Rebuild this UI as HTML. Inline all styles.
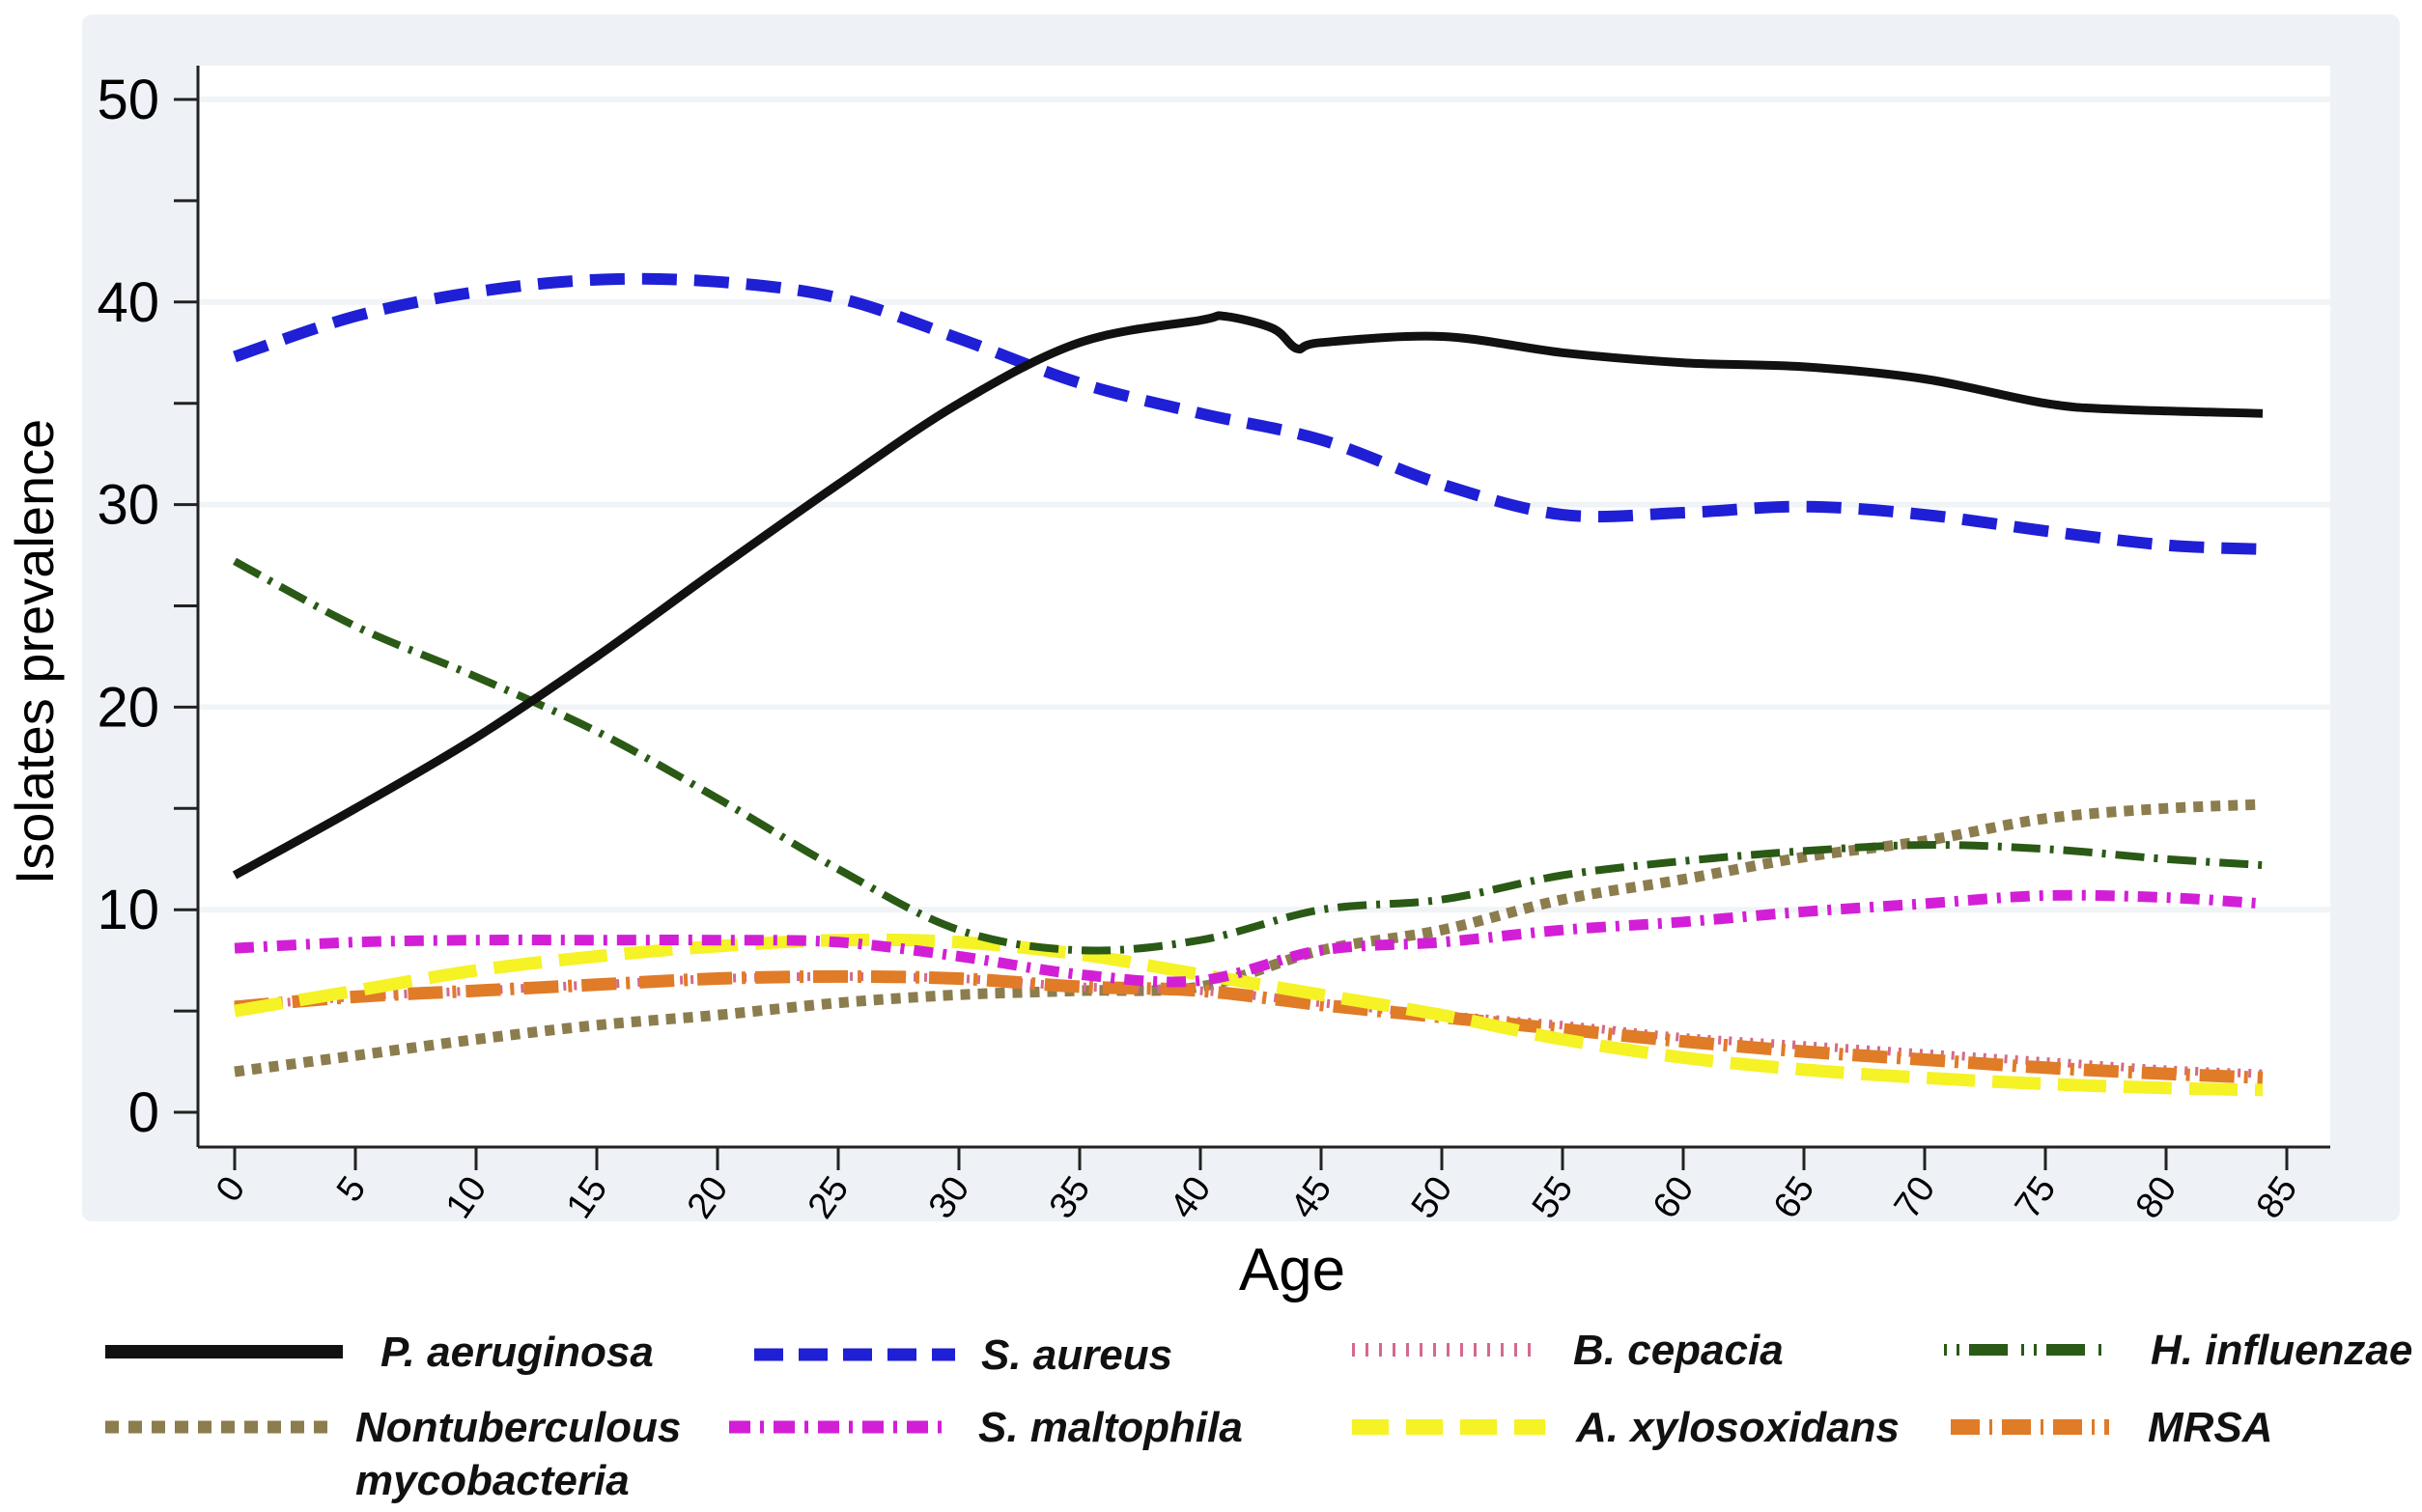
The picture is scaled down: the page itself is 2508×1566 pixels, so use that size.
<!DOCTYPE html>
<html><head><meta charset="utf-8">
<style>
html,body{margin:0;padding:0;background:#fff;}
svg{display:block;}
text{font-family:"Liberation Sans",sans-serif;}
.leg{font-family:"Liberation Sans Narrow","Liberation Sans",sans-serif;font-weight:bold;font-style:italic;font-size:44px;fill:#111;}
</style></head>
<body>
<svg id="chart" width="2508" height="1566" viewBox="0 0 2508 1566" xmlns="http://www.w3.org/2000/svg">
<rect x="85" y="15" width="2400" height="1250" fill="#eef2f6" rx="10"/>
<rect x="205" y="68" width="2208" height="1120" fill="#fff"/>
<g id="grid"></g>
<g id="series"></g>
<g id="axes"></g>
<text x="1338" y="1336" font-size="62" text-anchor="middle">Age</text>
<text transform="translate(55,675) rotate(-90)" font-size="56" text-anchor="middle">Isolates prevalence</text>
<g id="legend"></g>
</svg>
<script>
const ages = [0,5,10,15,20,25,30,35,40,45,50,55,60,65,70,75,80,84];
const paerAges = [0,5,10,15,20,25,30,35,40,41,43,44,45,50,55,60,65,70,75,78,84];
const paeruginosa = [11.7,15,18.5,22.5,26.8,31,35,38,39.1,39.3,38.7,37.7,38,38.3,37.5,37,36.8,36.2,35,34.7,34.5];
const saureus = [37.3,39.3,40.5,41.1,41,40.2,38.2,36,34.5,33.2,31,29.5,29.6,29.9,29.5,28.7,28,27.8];
const hinfluenzae = [27.2,24,21.5,18.8,15.5,12,9,8,8.5,10,10.5,11.7,12.4,12.9,13.2,13,12.5,12.2];
const ntm = [2,2.8,3.6,4.3,4.8,5.4,5.8,6,6.2,8,9,10.5,11.5,12.6,13.4,14.5,15,15.2];
const smaltophila = [8.1,8.4,8.5,8.5,8.5,8.4,7.7,6.8,6.5,8,8.4,9,9.4,9.9,10.3,10.7,10.6,10.3];
const axylosoxidans = [5,6,7,7.7,8.2,8.5,8.4,7.8,6.8,5.8,4.8,3.6,2.7,2.1,1.7,1.4,1.2,1.1];
const mrsa = [5.2,5.7,6,6.3,6.6,6.7,6.6,6.2,6,5.3,4.7,4.1,3.5,3,2.6,2.2,1.9,1.7];
const bcepacia = [5.2,5.7,6,6.3,6.6,6.7,6.6,6.2,6,5.4,4.8,4.3,3.7,3.3,2.9,2.5,2.1,1.9];
const xTicks = [0,5,10,15,20,25,30,35,40,45,50,55,60,65,70,75,80,85];
const yTicks = [0,10,20,30,40,50];
const yMinor = [5,15,25,35,45];

const NS='http://www.w3.org/2000/svg';
const X = a => 243 + a*(1250/50);
const Y = v => 1152 - v*20.98;
function mk(tag,attrs,parent){const e=document.createElementNS(NS,tag);for(const k in attrs)e.setAttribute(k,attrs[k]);parent.appendChild(e);return e;}
const grid=document.getElementById('grid'),axes=document.getElementById('axes'),series=document.getElementById('series'),legend=document.getElementById('legend');

yTicks.forEach(t=>{
  if(t>0){const g=mk('line',{x1:205,x2:2413,y1:Y(t),y2:Y(t),stroke:'#f1f4f7','stroke-width':6},grid);
  
  }
  const tk=mk('line',{x1:180,x2:205,y1:Y(t),y2:Y(t),stroke:'#222','stroke-width':3},axes);
  
  
  const tl=mk('text',{x:165,y:Y(t)+20,'font-size':58,'text-anchor':'end'},axes);
  
  
  tl.textContent=t;
});
yMinor.forEach(t=>{
  const tk=mk('line',{x1:180,x2:205,y1:Y(t),y2:Y(t),stroke:'#222','stroke-width':3},axes);
  
  
});
xTicks.forEach(t=>{
  const tk=mk('line',{x1:X(t),x2:X(t),y1:1188,y2:1212,stroke:'#222','stroke-width':3},axes);
  
  
  const tl=mk('text',{x:X(t)+12,y:1230,'font-size':38,'text-anchor':'end',transform:`rotate(-55 ${X(t)+12} 1230)`},axes);
  
  
  tl.textContent=t;
});
const ya=mk('line',{x1:205,x2:205,y1:68,y2:1188,stroke:'#222','stroke-width':3},axes);


const xa=mk('line',{x1:205,x2:2413,y1:1188,y2:1188,stroke:'#222','stroke-width':3},axes);



function smooth(pts){
  let d='M'+pts[0][0].toFixed(1)+' '+pts[0][1].toFixed(1);
  for(let i=0;i<pts.length-1;i++){
    const p0=pts[i-1]||pts[i],p1=pts[i],p2=pts[i+1],p3=pts[i+2]||p2;
    const c1=[p1[0]+(p2[0]-p0[0])/6,p1[1]+(p2[1]-p0[1])/6];
    const c2=[p2[0]-(p3[0]-p1[0])/6,p2[1]-(p3[1]-p1[1])/6];
    d+=` C${c1[0].toFixed(1)} ${c1[1].toFixed(1)} ${c2[0].toFixed(1)} ${c2[1].toFixed(1)} ${p2[0].toFixed(1)} ${p2[1].toFixed(1)}`;
  }
  return d;
}
const defs=[
 {name:'ntm',xs:ages,v:ntm,c:'#8c7d4e',w:11,d:'10 8'},
 {name:'b-cepacia',xs:ages,v:bcepacia,c:'#d46a8a',w:9,d:'3 8'},
 {name:'mrsa',xs:ages,v:mrsa,c:'#e07b28',w:13,d:'36 10 4 10'},
 {name:'a-xylosoxidans',xs:ages,v:axylosoxidans,c:'#f5f226',w:13,d:'50 18'},
 {name:'s-maltophila',xs:ages,v:smaltophila,c:'#d21fd6',w:11,d:'20 10 4 10'},
 {name:'h-influenzae',xs:ages,v:hinfluenzae,c:'#2a5a16',w:8,d:'30 10 4 10'},
 {name:'s-aureus',xs:ages,v:saureus,c:'#1f1fd6',w:12,d:'36 18'},
 {name:'p-aeruginosa',xs:paerAges,v:paeruginosa,c:'#111',w:9,d:''}
];
defs.forEach(s=>{
  const pts=s.xs.map((a,i)=>[X(a),Y(s.v[i])]);
  const el=mk('path',{d:smooth(pts),fill:'none',stroke:s.c,'stroke-width':s.w,'stroke-dasharray':s.d,'stroke-linejoin':'round'},series);
  
  
});

const leg=[
 {t:'P. aeruginosa',x1:109,x2:355,tx:394,y:1400,c:'#111',w:14,d:''},
 {t:'S. aureus',x1:781,x2:989,tx:1016,y:1403,c:'#1f1fd6',w:13,d:'30 16'},
 {t:'B. cepacia',x1:1400,x2:1592,tx:1629,y:1398,c:'#d46a8a',w:14,d:'3 11'},
 {t:'H. influenzae',x1:2013,x2:2176,tx:2227,y:1398,c:'#2a5a16',w:12,d:'3 10 3 10 40 14'},
 {t:'Nontuberculous',x1:109,x2:340,tx:368,y:1478,c:'#8c7d4e',w:13,d:'14 10'},
 {t:'S. maltophila',x1:755,x2:982,tx:1013,y:1478,c:'#d21fd6',w:13,d:'22 10 4 10'},
 {t:'A. xylosoxidans',x1:1400,x2:1600,tx:1632,y:1478,c:'#f5f226',w:16,d:'38 18'},
 {t:'MRSA',x1:2020,x2:2184,tx:2224,y:1478,c:'#e07b28',w:16,d:'30 10 3 10'}
];
leg.forEach(l=>{
  const s=mk('line',{x1:l.x1,x2:l.x2,y1:l.y,y2:l.y,stroke:l.c,'stroke-width':l.w,'stroke-dasharray':l.d},legend);
  
  
  const t=mk('text',{x:l.tx,y:l.y+15,class:'leg'},legend);
  
  
  t.textContent=l.t;
});
const t2=mk('text',{x:368,y:1548,class:'leg'},legend);


t2.textContent='mycobacteria';
</script>
</body></html>
